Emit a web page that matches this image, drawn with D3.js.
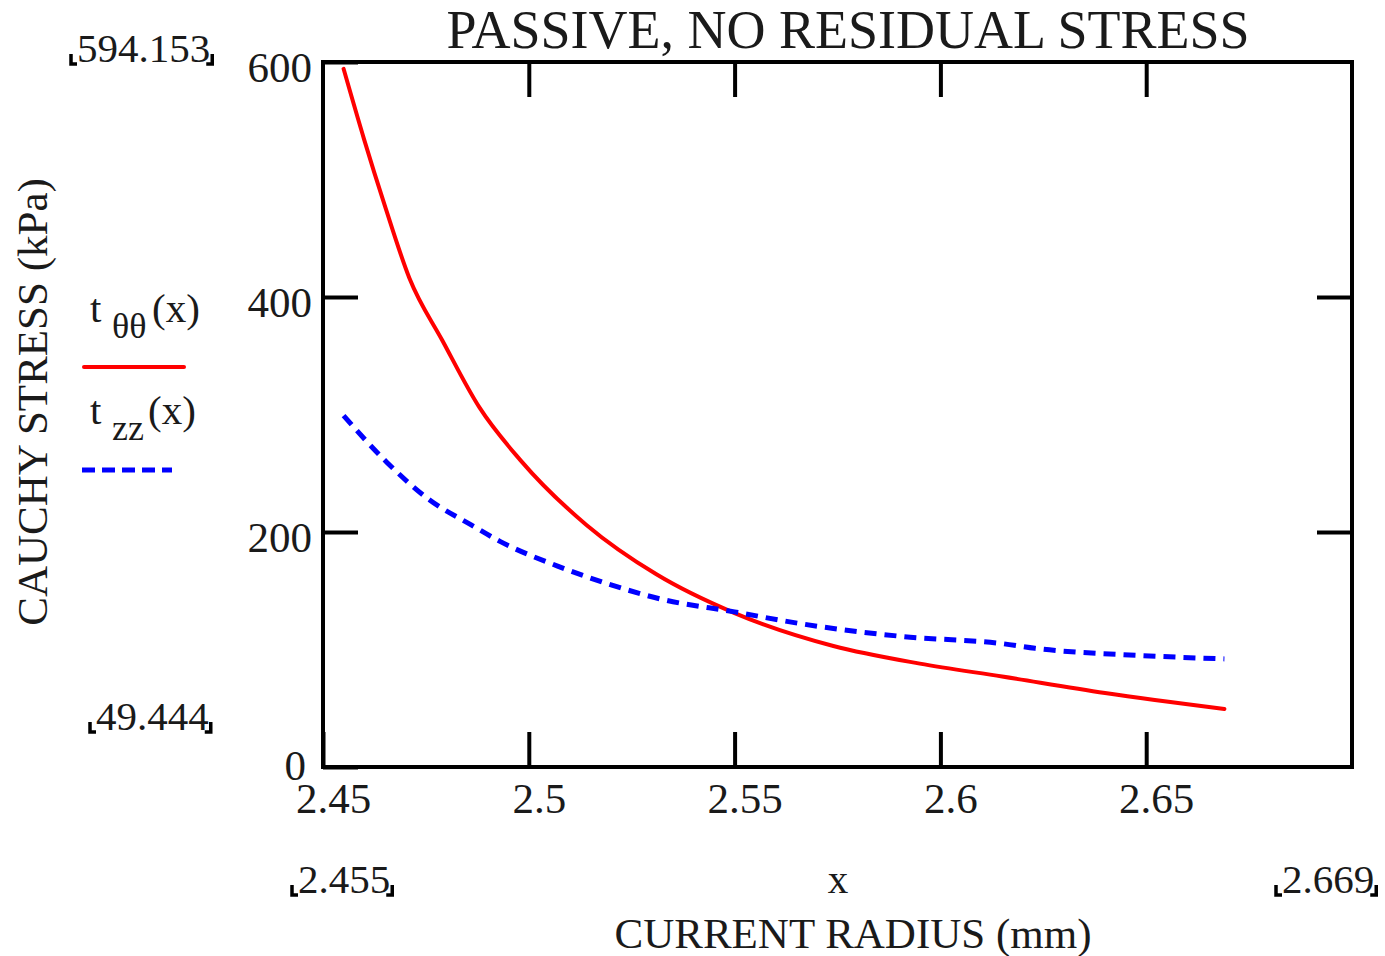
<!DOCTYPE html>
<html>
<head>
<meta charset="utf-8">
<script src="https://cdn.jsdelivr.net/npm/d3@7"></script>
<style>
  body { margin: 0; background: #fff; }
  text { font-family: "Liberation Serif", "Times New Roman", serif; fill: #1a1a1a; }
</style>
</head>
<body>
<svg id="chart" width="1385" height="956"></svg>
<script>
// data
const radius = [2.455, 2.460, 2.465, 2.471, 2.479, 2.488, 2.498, 2.514, 2.531, 2.550, 2.574, 2.595, 2.615, 2.640, 2.669];
const tThetaTheta = [594.2, 534, 478, 416, 363, 306, 261, 206, 164, 131, 103, 88, 77, 63, 49.4];

const radiusZ = [2.455, 2.4656, 2.476, 2.486, 2.493, 2.507, 2.520, 2.532, 2.550, 2.566, 2.591, 2.615, 2.623, 2.648, 2.669];
const tZZ = [299, 259, 227, 206, 192, 171, 155, 143, 132, 122, 111, 105, 101, 95, 92];

const xTicks = [2.45, 2.5, 2.55, 2.6, 2.65];
const yTicks = [0, 200, 400, 600];
const xLimits = ["2.455", "2.669"];
const yLimits = ["594.153", "49.444"];

const plotLeft = 323, plotRight = 1352, plotTop = 62, plotBottom = 767;
const tickLen = 35;

const svg = d3.select("#chart");

let xScale = d3.scaleLinear().domain([2.45, 2.7]).range([plotLeft, plotRight]);
let yScale = d3.scaleLinear().domain([0, 600]).range([plotBottom, plotTop]);

// ticks on all four sides, pointing inward
const bottomAxis = svg.append("g")
  .attr("transform", `translate(0, ${plotBottom})`)
  .call(d3.axisBottom(xScale).tickValues(xTicks).tickSize(-tickLen).tickSizeOuter(0).tickPadding(15)
    .tickFormat(d3.format("")));
bottomAxis.selectAll("text").attr("dx", 10).style("font-size", "43px");

const leftAxis = svg.append("g")
  .attr("transform", `translate(${plotLeft}, 0)`)
  .call(d3.axisLeft(yScale).tickValues(yTicks).tickSize(-tickLen).tickSizeOuter(0).tickPadding(11));
leftAxis.selectAll("text").attr("dy", "0.45em").style("font-size", "43px");
// the "0" sits a little left, tucked over the 2.45 label (as in Mathcad)
leftAxis.selectAll("text").filter((d) => d === 0).attr("dx", -6).attr("dy", "0.3em");

svg.append("g")
  .attr("transform", `translate(0, ${plotTop})`)
  .call(d3.axisTop(xScale).tickValues(xTicks.slice(1)).tickSize(-tickLen).tickSizeOuter(0).tickFormat(""));

svg.append("g")
  .attr("transform", `translate(${plotRight}, 0)`)
  .call(d3.axisRight(yScale).tickValues([200, 400]).tickSize(-tickLen).tickSizeOuter(0).tickFormat(""));

svg.selectAll(".domain").remove();
svg.selectAll(".tick line").attr("stroke", "#000").attr("stroke-width", 4);
svg.selectAll(".tick text").attr("fill", "#1a1a1a").style("font-family", "Liberation Serif, serif");

// frame
svg.append("rect")
  .attr("x", plotLeft).attr("y", plotTop)
  .attr("width", plotRight - plotLeft).attr("height", plotBottom - plotTop)
  .attr("fill", "none").attr("stroke", "#000").attr("stroke-width", 4);

// curves
let redLine = d3.line()
  .x((d, i) => xScale(radius[i]))
  .y((d) => yScale(d))
  .curve(d3.curveMonotoneX);

let blueLine = d3.line()
  .x((d, i) => xScale(radiusZ[i]))
  .y((d) => yScale(d))
  .curve(d3.curveMonotoneX);

svg.append("path")
  .datum(tThetaTheta)
  .attr("d", redLine)
  .attr("fill", "none")
  .attr("stroke", "#ff0000")
  .attr("stroke-width", 4)
  .attr("stroke-linecap", "round");

svg.append("path")
  .datum(tZZ)
  .attr("d", blueLine)
  .attr("fill", "none")
  .attr("stroke", "#0000ff")
  .attr("stroke-width", 5)
  .attr("stroke-dasharray", "12,8");

// title and axis titles
svg.append("text")
  .attr("x", 848).attr("y", 48)
  .style("text-anchor", "middle")
  .style("font-size", "54px")
  .text("PASSIVE, NO RESIDUAL STRESS");

svg.append("text")
  .attr("x", 838).attr("y", 893)
  .style("text-anchor", "middle")
  .style("font-size", "41px")
  .text("x");

svg.append("text")
  .attr("x", 853).attr("y", 948)
  .style("text-anchor", "middle")
  .style("font-size", "43px")
  .text("CURRENT RADIUS (mm)");

svg.append("text")
  .attr("transform", "translate(47, 402) rotate(-90)")
  .style("text-anchor", "middle")
  .style("font-size", "43px")
  .text("CAUCHY STRESS (kPa)");

// Mathcad range labels with corner brackets
function limitLabel(str, x, y) {
  let t = svg.append("text")
    .attr("x", x).attr("y", y)
    .style("font-size", "41px")
    .text(str);
  let w = t.node().getComputedTextLength();
  svg.append("path")
    .attr("d", `M${x - 6},${y - 8} L${x - 6},${y + 2} L${x},${y + 2}`)
    .attr("fill", "none").attr("stroke", "#000").attr("stroke-width", 3.5);
  svg.append("path")
    .attr("d", `M${x + w - 4},${y + 2} L${x + w + 2},${y + 2} L${x + w + 2},${y - 8}`)
    .attr("fill", "none").attr("stroke", "#000").attr("stroke-width", 3.5);
}
limitLabel(yLimits[0], 77, 62);
limitLabel(yLimits[1], 96, 730);
limitLabel(xLimits[0], 298, 893);
limitLabel(xLimits[1], 1282, 893);

// legend
const legend = svg.append("g");
legend.append("text").attr("x", 90).attr("y", 322).style("font-size", "41px").text("t");
legend.append("text").attr("x", 112).attr("y", 338).style("font-size", "36px").text("θθ");
legend.append("text").attr("x", 152).attr("y", 322).style("font-size", "41px").text("(x)");
legend.append("line")
  .attr("x1", 84).attr("x2", 184).attr("y1", 367).attr("y2", 367)
  .attr("stroke", "#ff0000").attr("stroke-width", 4).attr("stroke-linecap", "round");

legend.append("text").attr("x", 90).attr("y", 424).style("font-size", "41px").text("t");
legend.append("text").attr("x", 112).attr("y", 440).style("font-size", "36px").text("zz");
legend.append("text").attr("x", 148).attr("y", 424).style("font-size", "41px").text("(x)");
legend.append("line")
  .attr("x1", 82).attr("x2", 172).attr("y1", 470).attr("y2", 470)
  .attr("stroke", "#0000ff").attr("stroke-width", 5).attr("stroke-dasharray", "13,7");
</script>
</body>
</html>
